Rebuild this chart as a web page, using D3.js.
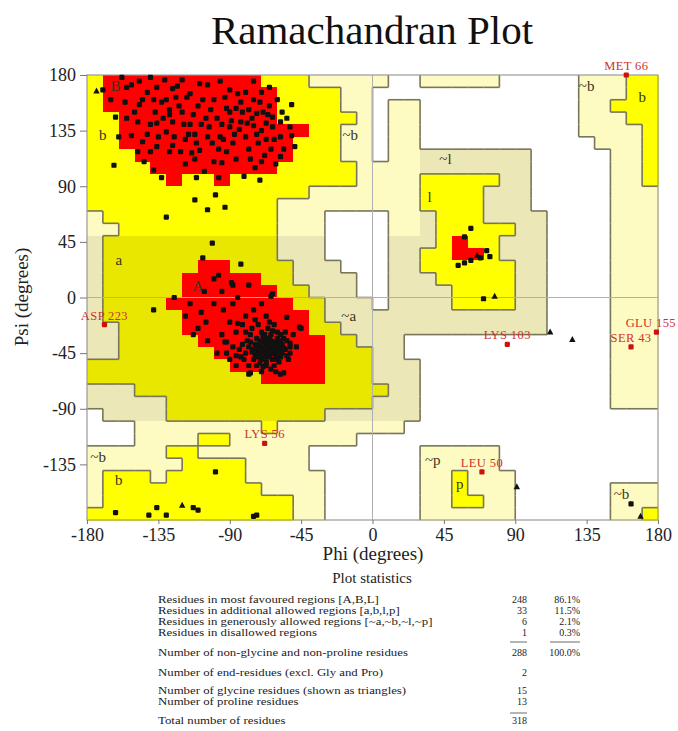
<!DOCTYPE html>
<html><head><meta charset="utf-8">
<script src="https://cdn.jsdelivr.net/npm/d3@7"></script>
<style>body{margin:0;background:#fff}svg{display:block}</style>
</head><body>
<svg id="c" width="678" height="731"></svg>
<script>
// ---------------- data ----------------
const phiTicks = [-180,-135,-90,-45,0,45,90,135,180];
const psiTicks = [-135,-90,-45,0,45,90,135,180];

// region map, 10-degree cells; rows from psi 180 (top) down to -180, columns phi -180..180
// R core, Y allowed, P generously allowed, W disallowed
const regionRows = [
"YRRRRRRRRRRYYYPPPPPWWPPPPPWWWWWPPPYY",
"YRRRRRRRRRRRYYYYPPWWWWWWWWWWWWWPPPYY",
"YRRRRRRRRRRRYYYYPPWPPWWWWWWWWWWPPYYY",
"YYRRRRRRRRRRYYYYYPWPPWWWWWWWWWWPPPYY",
"YYRRRRRRRRRRRRYYPPWPPWWWWWWWWWWPPPPY",
"YYRRRRRRRRRRRYYYPPWPPWWWWWWWWWWWPPPY",
"YYYRRRRRRRRRRYYYPPWPPPPPPPPPWWWWWPPY",
"YYYYRRRRRRRRYYYYYPPPPPPPPPPPWWWWWPPY",
"YYYYYRYYRYYYYYYYYPPPPYYYYYPPWWWWWPPY",
"YYYYYYYYYYYYYYPPPPPPPYYYYPPPWWWWWPPP",
"YYYYYYYYYYYYPPPPPPPPPYYYYPPPWWWWWPPP",
"PYYYYYYYYYYYPPPWWWWPPPYYYPPPPWWWWPPP",
"PPYYYYYYYYYYPPPWWWWPPPYYYYYPPWWWWPPP",
"PYYYYYYYYYYYPPPWWWWPPPYRYYPPPWWWWPPP",
"PYYYYYYYYYYYPPPWWWWPPYYRRYPPPWWWWPPP",
"PYYYYYYRRYYYYPPPWWWPPYYYYYYPPWWWWPPP",
"PYYYYYRRRRRYYPPPPWWPPPYYYYYPPWWWWPPP",
"PYYYYYRRRRRRYYPPPWWPPPPYYYYPPWWWWPPP",
"PYYYYRRRRRRRRYYPPPWPPPPYYYYPPWWWWPPP",
"PYYYYYRRRRRRRRYPPPPPPPPPPPPPPWWWWPPP",
"PPYYYYRRRRRRRRYYPPPPPPPPPPPPPWWWWPPP",
"PPYYYYYRRRRRRRRYYPPPWWWWWWWWWWWWWPPP",
"PPYYYYYYRRRRRRRYYYPPWWWWWWWWWWWWWPPP",
"YYYYYYYYYRRRRRRYYYPPPWWWWWWWWWWWWPPP",
"YYYYYYYYYYYRRRRYYYPPPWWWWWWWWWWWWPPP",
"PPPYYYYYYYYYYYYYYYYPPWWWWWWWWWWWWPPP",
"PPPPPYYYYYYYYYYYYYPPPWWWWWWWWWWWWPPP",
"WPPPPYYYYYYYYYYPPPPPPWWWWWWWWWWWWWWW",
"WWWPPPPPPPPYPPPPPPPPWWWWWWWWWWWWWWWW",
"WWWPPPPYYPPPPPPPPWWWWWWWWWWWWWWWWWWW",
"PPPPPYYPPPPPPPWWWWWWWPPPPPWWWWWWWWWW",
"PPPPPPYYYYPPPPWWWWWWWPPPPPWWWWWWWWWW",
"PYYYPYYYYYPPPPPWWWWWWPPYPPPWWWWWWWWW",
"PYYYYYYYYYYPPPPWWWWWWPPYPPPWWWWWWPPP",
"PYYYYYYYYYYYYPPWWWWWWPPYYPPWWWWWWPPP",
"YYYYYYYYYYYYYPPWWWWWWPPPPPPWWWWWWPPY"
];

// non-glycine residues [phi, psi]
const residues = [
[-170,168],[-147,175],[-142,166],[-136,170],[-133,158],[-126,169],[-123,171],[-117,162],[-109,173],[-104,172],
[-165,160],[-155,145],[-147,156],[-137,150],[-136,141],[-128,148],[-126,142],[-152,131],[-145,126],[-148,118],
[-140,118],[-138,103],[-133,97],[-126,123],[-130,134],[-114,117],[-111,97],[-112,79],[-104,71],[-99,83],
[-93,73],[-130,65],[-163,107],[-101,44],[-107,32],[-97,97],[-95,109],[-90,138],[-101,125],[-109,119],
[-80,166],[-70,166],[-65,170],[-75,160],[-92,153],[-86,153],[-78,152],[-73,149],[-69,150],[-51,156],
[-83,142],[-75,139],[-67,141],[-63,138],[-58,142],[-54,145],[-52,138],[-96,130],[-58,114],[-81,98],
[-71,95],[-51,131],[-49,122],
[-120,150],[-115,140],[-110,155],[-105,145],[-100,160],[-95,140],[-90,150],[-88,125],[-85,165],[-80,130],
[-78,120],[-75,175],[-72,125],[-70,135],[-68,115],[-65,155],[-62,128],[-60,160],[-58,130],[-140,140],
[-135,130],[-130,160],[-128,118],[-125,130],[-122,155],[-118,128],[-115,165],[-112,132],[-108,140],[-104,130],
[-100,110],[-98,145],[-92,118],[-90,168],[-86,112],[-82,150],[-145,160],[-150,150],[-155,170],[-160,130],
[-158,178],[-140,178],[-120,176],[-96,175],[-84,136],[-76,145],[-74,105],[-64,120],[-118,108],[-106,102],
[-132,145],[-128,152],[-113,148],[-102,152],[-94,128],[-70,110],[-66,148],[-56,120],
[-152,172],[-138,160],[-131,176],[-124,162],[-119,140],[-116,132],[-111,125],[-107,160],[-103,138],[-97,120],
[-93,162],[-89,143],[-87,132],[-83,158],[-79,141],[-77,112],[-73,132],[-71,158],[-67,128],[-63,146],
[-61,108],[-57,150],[-142,132],[-136,122],[-148,142],[-156,158],[-162,146],[-144,110],[-121,118],[-112,112],
[-83,27],[-89,12],[-138,-10],[-108,-12],[-113,-30],[-93,-36],[-85,-21],[-86,-47],[-86,-55],[-64,1],
[-45,-25],[-52,-37],[-77,-61],[-56,-61],[-88,10],[-63,3],[-92,-36],[-78,-62],[-58,-62],[-52,-45],
[-46,-24],[-54,-16],
[-65,-40],[-63,-42],[-67,-38],[-62,-45],[-68,-44],[-60,-40],[-70,-40],[-64,-35],[-66,-47],[-61,-37],
[-69,-36],[-72,-43],[-58,-43],[-63,-50],[-67,-52],[-71,-48],[-57,-38],[-64,-30],[-68,-30],[-60,-33],
[-74,-38],[-76,-44],[-62,-55],[-58,-48],[-55,-42],[-66,-25],[-70,-28],[-73,-33],[-78,-40],[-75,-50],
[-80,-45],[-56,-33],[-54,-47],[-60,-28],[-65,-20],[-72,-22],[-77,-30],[-82,-38],[-59,-52],[-69,-56],
[-64,-58],[-73,-55],[-52,-40],[-61,-47],[-66,-43],[-63,-38],[-69,-41],[-71,-35],[-62,-41],[-67,-45],
[-58,-35],[-65,-33],[-74,-46],[-60,-44],[-70,-50],[-57,-45],[-68,-48],[-63,-45],[-66,-36],[-72,-39],
[-79,-35],[-81,-50],[-76,-25],[-67,-15],[-62,-22],[-55,-28],[-53,-50],[-61,-60],[-70,-60],[-78,-55],
[-84,-42],[-86,-28],[-90,-20],[-94,-10],[-88,-5],[-80,-15],[-75,-10],[-70,-5],[-100,-5],[-105,-20],
[-95,-30],[-98,-45],[-90,-50],[-110,-25],[-118,-15],[-125,0],[-100,15],[-95,5],[-85,0],[-78,10],
[-66,-41],[-64,-44],[-68,-34],[-59,-39],[-71,-45],[-62,-36],[-65,-48],[-69,-31],[-73,-48],[-56,-41],
[-75,-42],[-60,-50],[-67,-55],[-63,-27],[-58,-30],[-71,-53],[-77,-36],[-54,-35],[-80,-28],[-83,-48],
[-48,-40],[-50,-30],[-74,-18],[-82,-22],[-88,-40],[-92,-45],[-104,-35],[-115,-5],[-106,5],[-97,18],
[62,56],[58,49],[72,38],[74,33],[62,30],[58,28],[70,-1],[68,32],[54,26],
[-162,-174],[-136,-170],[-141,-176],[-130,-176],[-113,-170],[-110,-172],[-99,-141],[-75,-177],[-73,-176],[163,-167]
];

// glycine residues (triangles)
const glycines = [[-174,167],[-120,-168],[77,1],[112,-28],[126,-34],[91,-153],[169,-177],[66,34]];

// residues outside allowed regions, labelled
const flaggedNames = ["MET 66","ASP 223","LYS 56","LYS 103","GLU 155","SER 43","LEU 50"];
const flaggedPhi   = [160,-169,-68,85,179,163,69];
const flaggedPsi   = [180,-22,-118,-38,-28,-40,-141];

const regionLabelText = ["B","b","a","A","~b","~a","~l","l","~b","b","~b","b","~p","p","~b"];
const regionLabelPhi  = [-162,-170,-160,-110,-14,-15,46,36,135,170,-173,-160,38,55,157];
const regionLabelPsi  = [170,130,29,8,130,-16,111,80,170,161,-130,-149,-133,-152,-160];

const statLabels = [
"Residues in most favoured regions  [A,B,L]",
"Residues in additional allowed regions  [a,b,l,p]",
"Residues in generously allowed regions  [~a,~b,~l,~p]",
"Residues in disallowed regions",
"Number of non-glycine and non-proline residues",
"Number of end-residues (excl. Gly and Pro)",
"Number of glycine residues (shown as triangles)",
"Number of proline residues",
"Total number of residues"];
const statCounts = ["248","33","6","1","288","2","15","13","318"];
const statPercents = ["86.1%","11.5%","2.1%","0.3%","100.0%","","","",""];

// ---------------- drawing ----------------
const svg = d3.select("#c");
const serif = "'Liberation Serif','Times New Roman',serif";
const x = d3.scaleLinear().domain([-180,180]).range([87,658]);
const y = d3.scaleLinear().domain([-180,180]).range([520,75]);

const light = {R:"#ff0000", Y:"#ffff00", P:"#fdfac2", W:"#ffffff"};
const dark  = {R:"#ff0000", Y:"#e9e600", P:"#ebe7b6", W:"#ffffff"};

const cells = [];
regionRows.forEach((row, j) => {
  for (let i = 0; i < 36; i++) {
    const phi0 = -180 + 10*i, psi1 = 180 - 10*j, psi0 = psi1 - 10;
    const code = row[i];
    const inBand = (psi1 <= 50 && psi0 >= -100 && phi0 < 30);
    const inL = (code === "P" && phi0 >= 30 && phi0 < 110 && psi1 <= 120 && psi0 >= -30);
    cells.push({phi0, psi0, psi1, code, fill: (inBand || inL) ? dark[code] : light[code]});
  }
});

const plot = svg.append("g");
plot.selectAll("rect.cell").data(cells).join("rect")
  .attr("x", d => x(d.phi0)).attr("y", d => y(d.psi1))
  .attr("width", d => x(d.phi0+10) - x(d.phi0) + 0.5)
  .attr("height", d => y(d.psi0) - y(d.psi1) + 0.5)
  .attr("fill", d => d.fill).attr("shape-rendering","crispEdges");

// boundary lines between region types (not around core)
const segs = [];
const code = (i,j) => regionRows[j][i];
for (let j = 0; j < 36; j++) for (let i = 0; i < 36; i++) {
  const c = code(i,j);
  if (i < 35) { const c2 = code(i+1,j);
    if (c !== c2 && c !== "R" && c2 !== "R") segs.push([-170+10*i, 180-10*j, -170+10*i, 170-10*j]); }
  if (j < 35) { const c2 = code(i,j+1);
    if (c !== c2 && c !== "R" && c2 !== "R") segs.push([-180+10*i, 170-10*j, -170+10*i, 170-10*j]); }
}
plot.selectAll("line.seg").data(segs).join("line")
  .attr("x1", d => x(d[0])).attr("y1", d => y(d[1]))
  .attr("x2", d => x(d[2])).attr("y2", d => y(d[3]))
  .attr("stroke", "#77755a").attr("stroke-width", 1.6);

// zero lines
plot.append("line").attr("x1", x(0)).attr("x2", x(0)).attr("y1", y(180)).attr("y2", y(-180))
  .attr("stroke","#b0b0b0").attr("stroke-width",1);
plot.append("line").attr("x1", x(-180)).attr("x2", x(180)).attr("y1", y(0)).attr("y2", y(0))
  .attr("stroke","#b0b0b0").attr("stroke-width",1);

// frame
plot.append("rect").attr("x", x(-180)).attr("y", y(180)).attr("width", x(180)-x(-180)).attr("height", y(-180)-y(180))
  .attr("fill","none").attr("stroke","#9a9a9a").attr("stroke-width",1.2);

// region labels
plot.selectAll("text.rl").data(regionLabelText).join("text")
  .attr("x", (d,k) => x(regionLabelPhi[k])).attr("y", (d,k) => y(regionLabelPsi[k]))
  .attr("text-anchor","middle").attr("dominant-baseline","middle")
  .attr("font-family", serif).attr("font-size", 15).attr("fill","#3a3520").text(d => d);

// residues
plot.selectAll("rect.res").data(residues).join("rect")
  .attr("x", d => x(d[0]) - 2.6).attr("y", d => y(d[1]) - 2.6)
  .attr("width", 5.2).attr("height", 5.2).attr("rx", 1.2).attr("fill", "#111");

plot.selectAll("path.gly").data(glycines).join("path")
  .attr("d", d => { const cx = x(d[0]), cy = y(d[1]); return `M${cx},${cy-3.5}L${cx+3.2},${cy+2.5}L${cx-3.2},${cy+2.5}Z`; })
  .attr("fill", "#111");

// flagged residues
const fl = plot.append("g");
flaggedNames.forEach((n, k) => {
  const cx = x(flaggedPhi[k]), cy = y(flaggedPsi[k]);
  fl.append("rect").attr("x", cx-2.6).attr("y", cy-2.6).attr("width",5.2).attr("height",5.2).attr("rx",1.2).attr("fill","#cc1111");
  const t = fl.append("text").attr("x", cx).attr("y", cy-5).attr("text-anchor","middle")
    .attr("font-family", serif).attr("font-size", 12.5).attr("letter-spacing", 0.4).attr("fill","#d03030").text(n);
  const w = t.node().getComputedTextLength();
  if (cx + w/2 > 676) t.attr("x", 676 - w/2);
});

// axes
const yAxis = svg.append("g").attr("transform", `translate(${x(-180)},0)`)
  .call(d3.axisLeft(y).tickValues(psiTicks).tickFormat(d => String(d)).tickSize(7).tickPadding(4));
const xAxis = svg.append("g").attr("transform", `translate(0,${y(-180)})`)
  .call(d3.axisBottom(x).tickValues(phiTicks).tickFormat(d => String(d)).tickSize(4).tickPadding(4));
[yAxis, xAxis].forEach(a => {
  a.select(".domain").remove();
  a.selectAll(".tick line").attr("stroke","#777");
  a.selectAll(".tick text").attr("font-family", serif).attr("font-size", 18).attr("fill","#222");
});

svg.append("text").attr("x", 372).attr("y", 44).attr("text-anchor","middle")
  .attr("font-family", serif).attr("font-size", 41).attr("fill","#111").text("Ramachandran Plot");
svg.append("text").attr("x", 373).attr("y", 560).attr("text-anchor","middle")
  .attr("font-family", serif).attr("font-size", 19).attr("fill","#222").text("Phi (degrees)");
svg.append("text").attr("transform", "translate(28,297) rotate(-90)").attr("text-anchor","middle")
  .attr("font-family", serif).attr("font-size", 19).attr("fill","#222").text("Psi (degrees)");

// statistics
svg.append("text").attr("x", 372).attr("y", 583).attr("text-anchor","middle")
  .attr("font-family", serif).attr("font-size", 15).attr("fill","#222").text("Plot statistics");
const rowY = [603,614,625,636,656,676,694,705,724];
const st = svg.append("g").attr("font-family", serif).attr("font-size", 10).attr("fill","#222");
statLabels.forEach((t,k) => {
  const tx = st.append("text").attr("x",158).attr("y",rowY[k]).text(t);
  const w = tx.node().getComputedTextLength();
  tx.attr("textLength", w*1.28).attr("lengthAdjust","spacingAndGlyphs");
  st.append("text").attr("x",527).attr("y",rowY[k]).attr("text-anchor","end").text(statCounts[k]);
  if (statPercents[k]) st.append("text").attr("x",580).attr("y",rowY[k]).attr("text-anchor","end").text(statPercents[k]);
});
[[510,527,642],[550,580,642],[510,527,713]].forEach(s => {
  st.append("line").attr("x1",s[0]).attr("x2",s[1]).attr("y1",s[2]).attr("y2",s[2]).attr("stroke","#444").attr("stroke-width",0.8);
});
</script>
</body></html>
